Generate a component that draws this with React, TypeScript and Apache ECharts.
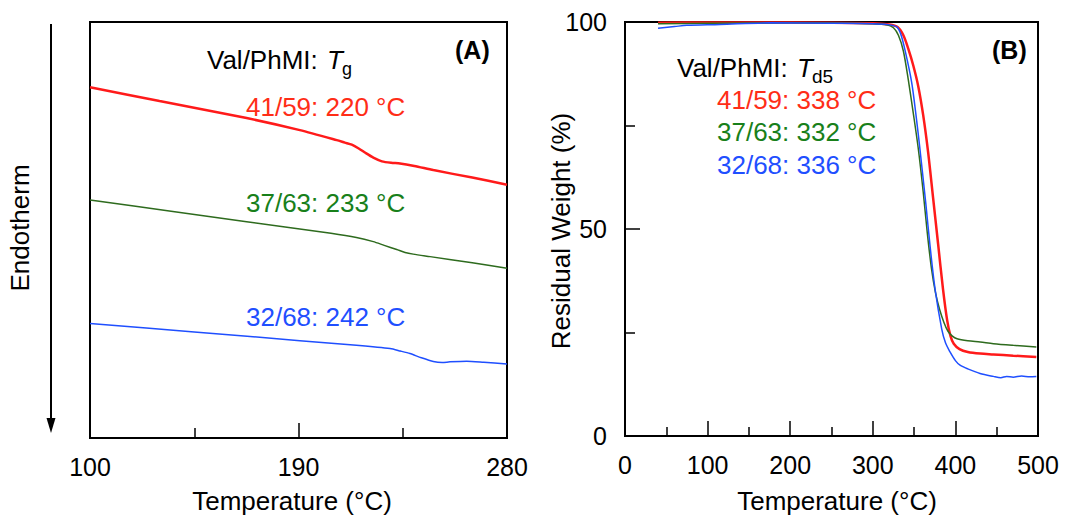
import React, { useEffect, useRef } from "react";
import * as echarts from "echarts";

const FONT = "'Liberation Sans', Arial, Helvetica, sans-serif";

// Panel A: DSC traces (temperature °C, arbitrary heat-flow units; endotherm down)
const dscRed: [number, number][] = [[100, 84.3], [130, 81.0], [167.6, 76.9], [190.6, 74.0], [206.5, 71.6], [210, 71.0], [213, 70.5], [216, 69.6], [219, 68.5], [222.3, 67.4], [226, 66.5], [230, 66.15], [233.8, 66.0], [240, 65.4], [248.2, 64.4], [265, 62.6], [280, 60.9]];
const dscGreen: [number, number][] = [[100, 57.2], [135, 54.5], [167.6, 52.0], [204, 49.2], [215, 48.2], [222.3, 47.2], [227, 46.3], [232.4, 45.3], [236, 44.6], [239.5, 44.2], [246.8, 43.6], [265, 42.1], [280, 40.8]];
const dscBlue: [number, number][] = [[100, 27.5], [145, 25.5], [190.6, 23.4], [215, 22.3], [229.5, 21.5], [234, 20.9], [238.1, 20.3], [243, 19.3], [248.2, 18.4], [252, 18.15], [255.4, 18.3], [262.6, 18.45], [270, 18.2], [280, 17.8]];

// Panel B: TGA traces (temperature °C, residual weight %)
const tgaRed: [number, number][] = [[40, 99.8], [100, 99.9], [200, 99.9], [300, 99.7], [320, 99.4], [330, 98.8], [337, 96.8], [343, 93.5], [349, 89.5], [355, 84.5], [361, 77.5], [367, 68.5], [373, 57.5], [379, 46.5], [385, 35.5], [390, 28], [394, 24.2], [398, 22.3], [405, 21], [415, 20.3], [430, 19.9], [446, 19.7], [470, 19.4], [498, 19.1]];
const tgaGreen: [number, number][] = [[40, 99.6], [100, 99.7], [200, 99.8], [300, 99.6], [318, 99.3], [325, 98.6], [331, 96.8], [337, 93.0], [343, 86.0], [349, 78.0], [355, 69.5], [361, 59], [366, 49], [371, 40.5], [376, 34.5], [381, 30.5], [386, 27.5], [391, 25.3], [396, 24.2], [402, 23.5], [415, 23.0], [430, 22.7], [446, 22.3], [470, 21.9], [498, 21.5]];
const tgaBlue: [number, number][] = [[40, 98.5], [60, 98.9], [75, 99.2], [115, 99.4], [175, 99.8], [250, 99.7], [300, 99.6], [317, 99.4], [329, 98.8], [334, 97.0], [339, 93.2], [347, 85.5], [352.3, 77.5], [357, 69.4], [364.4, 55.7], [369.2, 46.1], [375.3, 35.6], [383.4, 25.9], [388, 22.5], [393.5, 20.3], [400, 18.2], [405.6, 17.1], [415, 16.2], [429.8, 15.1], [446, 14.4], [455, 14.1], [462, 14.4], [470, 14.2], [480, 14.5], [490, 14.3], [498, 14.4]];

const names = ["41/59", "37/63", "32/68"];
const tgLabels = ["41/59: 220 °C", "37/63: 233 °C", "32/68: 242 °C"];
const td5Labels = ["41/59: 338 °C", "37/63: 332 °C", "32/68: 336 °C"];

const xTicksA = [100, 190, 280];
const xMinorTicksA = [145, 235];

const RED = "#ff1a1a";
const GREEN = "#2e6b1e";
const BLUE = "#1f4fff";
const RED_T = "#ff2d17";
const GREEN_T = "#18801a";
const BLUE_T = "#1f4fff";

function txt(x: number, y: number, text: string, opts: any = {}) {
  const align = opts.align || "left";
  return {
    type: "text",
    x,
    y,
    rotation: opts.rotation || 0,
    style: {
      text,
      font: opts.font || `26px ${FONT}`,
      fill: opts.fill || "#000",
      align,
      verticalAlign: "middle",
      textAlign: align,
      textVerticalAlign: "middle",
    },
  };
}

export default function App() {
  const ref = useRef<HTMLDivElement>(null);
  useEffect(() => {
    if (!ref.current) return;
    const chart = echarts.init(ref.current, undefined, { renderer: "svg" });
    const tickStyle = { color: "#000", width: 1.5 };
    const labelStyle = { fontSize: 25, color: "#000", fontFamily: FONT };
    const line = (name: string, data: [number, number][], xi: number, yi: number, color: string, width: number, smooth: number) => ({
      name, type: "line", xAxisIndex: xi, yAxisIndex: yi, data, showSymbol: false, smooth, clip: false,
      lineStyle: { color, width },
    });
    const option: any = {
      animation: false,
      backgroundColor: "#fff",
      grid: [
        { left: 90, top: 22, width: 417, height: 416, show: true, borderColor: "#000", borderWidth: 2, backgroundColor: "transparent" },
        { left: 625, top: 22, width: 413, height: 414, show: true, borderColor: "#000", borderWidth: 2, backgroundColor: "transparent" },
      ],
      xAxis: [
        {
          gridIndex: 0, type: "value", min: 100, max: 280, position: "bottom",
          axisLine: { show: false }, splitLine: { show: false },
          axisTick: { inside: true, length: 15, customValues: [190], lineStyle: tickStyle },
          axisLabel: { ...labelStyle, customValues: xTicksA, margin: 16 },
        },
        {
          gridIndex: 0, type: "value", min: 100, max: 280, position: "bottom",
          axisLine: { show: false }, splitLine: { show: false },
          axisTick: { inside: true, length: 10, customValues: xMinorTicksA, lineStyle: tickStyle },
          axisLabel: { show: false },
        },
        {
          gridIndex: 1, type: "value", min: 0, max: 500, interval: 100, position: "bottom",
          axisLine: { show: false }, splitLine: { show: false },
          axisTick: { inside: true, length: 15, lineStyle: tickStyle },
          minorTick: { show: true, splitNumber: 2, length: 9, lineStyle: tickStyle },
          axisLabel: { ...labelStyle, margin: 16, showMinLabel: true, showMaxLabel: true },
        },
      ],
      yAxis: [
        { gridIndex: 0, type: "value", min: 0, max: 100, show: false },
        {
          gridIndex: 1, type: "value", min: 0, max: 100, interval: 50,
          axisLine: { show: false }, splitLine: { show: false },
          axisTick: { inside: true, length: 15, lineStyle: tickStyle },
          minorTick: { show: true, splitNumber: 2, length: 10, lineStyle: tickStyle },
          axisLabel: { ...labelStyle, margin: 18, showMinLabel: true, showMaxLabel: true },
        },
      ],
      series: [
        line(names[0], dscRed, 0, 0, RED, 2.5, 0.25),
        line(names[1], dscGreen, 0, 0, GREEN, 1.5, 0.25),
        line(names[2], dscBlue, 0, 0, BLUE, 1.5, 0.25),
        line(names[0], tgaRed, 2, 1, RED, 2.5, 0.3),
        line(names[1], tgaGreen, 2, 1, GREEN, 1.5, 0.3),
        line(names[2], tgaBlue, 2, 1, BLUE, 1.5, 0.3),
      ],
      graphic: [
        { type: "line", shape: { x1: 51, y1: 24, x2: 51, y2: 424 }, style: { stroke: "#000", lineWidth: 2 } },
        { type: "polygon", shape: { points: [[46.5, 418], [55.5, 418], [51, 433]] }, style: { fill: "#000" } },
        txt(20, 228, "Endotherm", { align: "center", rotation: Math.PI / 2 }),
        txt(561, 231, "Residual Weight (%)", { align: "center", rotation: Math.PI / 2 }),
        txt(292, 501, "Temperature (°C)", { align: "center" }),
        txt(837, 501, "Temperature (°C)", { align: "center" }),
        txt(455, 49.5, "(A)", { font: `bold 25px ${FONT}` }),
        txt(992, 50, "(B)", { font: `bold 25px ${FONT}` }),
        txt(207, 60, "Val/PhMI: "),
        txt(327, 60, "T", { font: `italic 26px ${FONT}` }),
        txt(342, 69, "g", { font: `18px ${FONT}` }),
        txt(677, 68, "Val/PhMI: "),
        txt(797, 68, "T", { font: `italic 26px ${FONT}` }),
        txt(812, 76, "d5", { font: `19px ${FONT}` }),
        txt(246, 107, tgLabels[0], { fill: RED_T }),
        txt(246, 203, tgLabels[1], { fill: GREEN_T }),
        txt(246, 316.5, tgLabels[2], { fill: BLUE_T }),
        txt(717, 99.5, td5Labels[0], { fill: RED_T }),
        txt(717, 132, td5Labels[1], { fill: GREEN_T }),
        txt(717, 165.3, td5Labels[2], { fill: BLUE_T }),
      ],
    };
    chart.setOption(option);
    return () => chart.dispose();
  }, []);
  return (
    <div
      ref={ref}
      style={{ position: "fixed", left: 0, top: 0, width: "1065px", height: "515px", background: "#fff" }}
    />
  );
}
